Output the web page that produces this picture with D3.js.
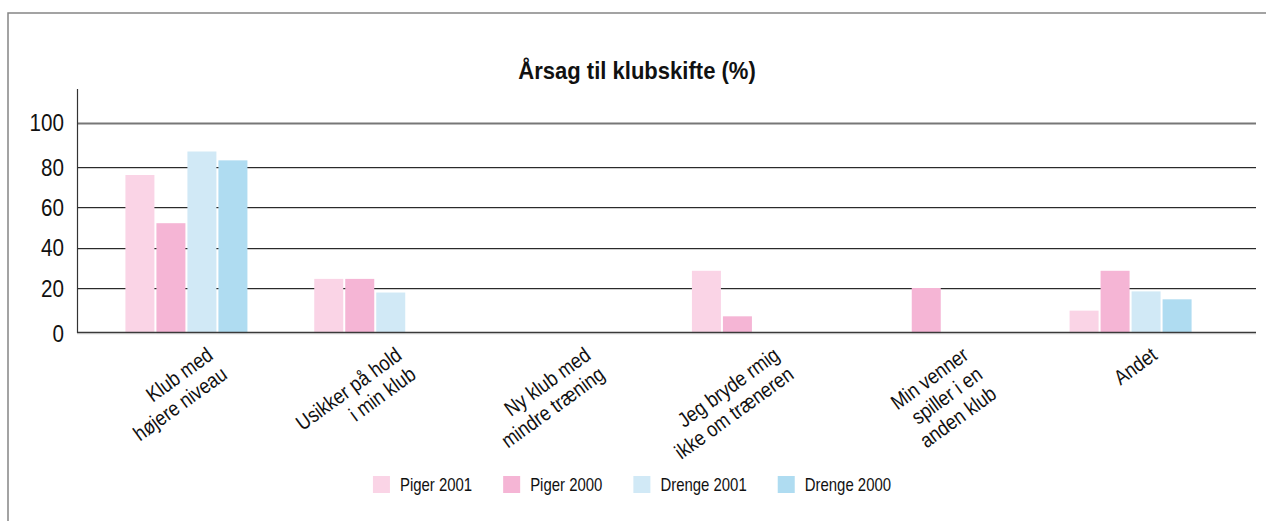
<!DOCTYPE html>
<html>
<head>
<meta charset="utf-8">
<script src="https://cdn.jsdelivr.net/npm/d3@7"></script>
<style>
  html, body { margin: 0; padding: 0; background: #fff; }
  svg { display: block; }
  text { font-family: "Liberation Sans", Arial, sans-serif; fill: #111; }
</style>
</head>
<body>
<svg id="chart" width="1266" height="521"></svg>
<script>
// ---- data ----
const title = "Årsag til klubskifte (%)";
const categories = [
  "Klub med\nhøjere niveau",
  "Usikker på hold\ni min klub",
  "Ny klub med\nmindre træning",
  "Jeg bryde rmig\nikke om træneren",
  "Min venner\nspiller i en\nanden klub",
  "Andet"
];
const seriesNames = ["Piger 2001", "Piger 2000", "Drenge 2001", "Drenge 2000"];
const piger2001  = [76, 24.5, 0, 28.5, 0, 10];
const piger2000  = [52, 24.5, 0, 7.5, 20, 28.5];
const drenge2001 = [87, 18, 0, 0, 0, 18.5];
const drenge2000 = [83, 0, 0, 0, 0, 15];
const yTicks = [0, 20, 40, 60, 80, 100];
const seriesColors = ["#fad4e6", "#f5b5d5", "#d1e9f6", "#afdcf1"];

const seriesValues = [piger2001, piger2000, drenge2001, drenge2000];

// ---- layout ----
const svg = d3.select("#chart");
const axisX = 77, gridRight = 1256, axisTop = 89;

// frame
svg.append("rect").attr("x", 8).attr("y", 13).attr("width", 1400).attr("height", 700)
  .attr("fill", "none").attr("stroke", "#858585").attr("stroke-width", 1.5);

// y scale (gridline spacing in the original is slightly uneven)
const y = d3.scaleLinear().domain(yTicks).range([333.3, 288, 247.5, 207, 167, 122.7]);

// x scales
const x0 = d3.scaleBand().domain(categories).range([92, 1225]).paddingInner(0).paddingOuter(0);
const groupW = 122;
const x1 = d3.scaleBand().domain(seriesNames).range([0, groupW]).paddingInner(2 / 31).paddingOuter(0);
const color = d3.scaleOrdinal().domain(seriesNames).range(seriesColors);

// gridlines
const grid = svg.append("g");
yTicks.forEach(t => {
  const yy = Math.round(y(t));
  if (t === 100) {
    grid.append("line").attr("x1", axisX).attr("x2", gridRight).attr("y1", yy + 0.5).attr("y2", yy + 0.5)
      .attr("stroke", "#777").attr("stroke-width", 1.8);
  } else if (t !== 0) {
    grid.append("line").attr("x1", axisX).attr("x2", gridRight).attr("y1", yy + 0.5).attr("y2", yy + 0.5)
      .attr("stroke", "#2a2a2a").attr("stroke-width", 1);
    grid.append("line").attr("x1", axisX).attr("x2", gridRight).attr("y1", yy + 1.5).attr("y2", yy + 1.5)
      .attr("stroke", "#cfcfcf").attr("stroke-width", 1);
  }
});

// bars
const table = categories.map((c, i) => ({ cat: c, vals: seriesNames.map((s, k) => ({ s, v: seriesValues[k][i] })) }));
const groups = svg.append("g").selectAll("g").data(table).join("g")
  .attr("transform", d => `translate(${x0(d.cat) + (x0.bandwidth() - groupW) / 2},0)`);
groups.selectAll("rect").data(d => d.vals.filter(e => e.v > 0)).join("rect")
  .attr("x", e => x1(e.s))
  .attr("width", x1.bandwidth())
  .attr("y", e => y(e.v))
  .attr("height", e => y(0) - y(e.v))
  .attr("fill", e => color(e.s));

// baseline & y axis
const by = Math.round(y(0));
svg.append("line").attr("x1", axisX).attr("x2", gridRight).attr("y1", by - 0.5).attr("y2", by - 0.5)
  .attr("stroke", "#3a3a3a").attr("stroke-width", 1.3);
svg.append("line").attr("x1", axisX).attr("x2", gridRight).attr("y1", by + 0.7).attr("y2", by + 0.7)
  .attr("stroke", "#bdbdbd").attr("stroke-width", 1);
svg.append("line").attr("x1", axisX + 0.5).attr("x2", axisX + 0.5).attr("y1", axisTop).attr("y2", by)
  .attr("stroke", "#333").attr("stroke-width", 1.2);

// y tick labels
svg.append("g").selectAll("g").data(yTicks).join("g")
  .attr("transform", d => `translate(64,${y(d)}) scale(0.86,1)`)
  .append("text").attr("dy", "0.36em")
  .attr("text-anchor", "end").attr("font-size", 24)
  .text(d => d);

// title
svg.append("g").attr("transform", `translate(637,78.5) scale(0.9,1)`)
  .append("text").attr("text-anchor", "middle")
  .attr("font-size", 24.5).attr("font-weight", "bold").text(title);

// category labels: rotated, right-aligned lines, end of first line placed just right of the group centre
const ANG = 36, LH = 24, LDX = 28, LDY = 358;
categories.forEach(c => {
  const cx = x0(c) + x0.bandwidth() / 2;
  const g = svg.append("g")
    .attr("transform", `translate(${cx + LDX},${LDY}) rotate(${-ANG}) scale(0.86,1)`);
  c.split("\n").forEach((line, k) => {
    g.append("text").attr("x", 0).attr("y", k * LH).attr("text-anchor", "end")
      .attr("font-size", 21).text(line);
  });
});

// legend
const LSX = 0.83;
const legend = svg.append("g");
let lx = 0;
seriesNames.forEach((s, k) => {
  const g = legend.append("g").attr("transform", `translate(${lx},0)`);
  g.append("rect").attr("x", 0).attr("y", -8.5).attr("width", 17).attr("height", 17).attr("fill", color(s));
  const t = g.append("g").attr("transform", `translate(27,0) scale(${LSX},1)`)
    .append("text").attr("dy", "0.36em").attr("font-size", 18).text(s);
  const w = t.node().getComputedTextLength() * LSX;
  lx += 27 + w + 31;
});
const totalW = lx - 31;
legend.attr("transform", `translate(${632 - totalW / 2},484.5)`);
</script>
</body>
</html>
